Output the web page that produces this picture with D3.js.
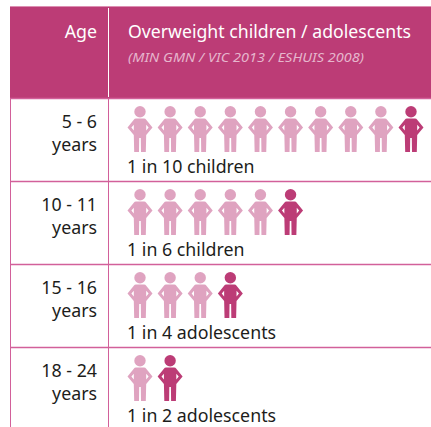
<!DOCTYPE html>
<html>
<head>
<meta charset="utf-8">
<script src="https://cdn.jsdelivr.net/npm/d3@7"></script>
<style>
html, body { margin: 0; padding: 0; background: #fff; overflow: hidden; }
text { font-family: "Noto Sans", sans-serif; }
</style>
</head>
<body>
<div id="chart"></div>
<script>
var ageLabels = ["5 - 6", "10 - 11", "15 - 16", "18 - 24"];
var outOf = [10, 6, 4, 2];
var overweight = [1, 1, 1, 1];
var captions = ["1 in 10 children", "1 in 6 children", "1 in 4 adolescents", "1 in 2 adolescents"];
var ageTitle = "Age";
var mainTitle = "Overweight children / adolescents";
var sourceText = "(MIN GMN / VIC 2013 / ESHUIS 2008)";

var iWidth = 431, iHeight = 427;
var cHeader = "#bc3c76", cLight = "#dfa3c0", cLine = "#d2609a", cText = "#1d1d1b";

var svg = d3.select("#chart").append("svg")
	.attr("width", iWidth)
	.attr("height", iHeight);

// rows, one band per age group
var yRow = d3.scaleBand().domain(ageLabels).range([98, 430]);
// icon slots, ten across the full width
var xIcon = d3.scalePoint().domain(d3.range(10)).range([140, 411]);

// torso with arms on hips, the two small holes are cut with evenodd
var figure = "M-6,13.5 Q-5.5,12.5 -4,12.5 L4,12.5 Q5.5,12.5 6,13.5 L12.5,21.5 L6.2,29 L5.8,46 L1,46 L0.8,32 L-0.8,32 L-1,46 L-5.8,46 L-6.2,29 L-12.5,21.5 Z " +
	"M6.2,18.8 L8.6,21.5 L6.2,24.4 Z M-6.2,18.8 L-8.6,21.5 L-6.2,24.4 Z";

// header
svg.append("rect").attr("x", 10).attr("y", 6).attr("width", iWidth - 10).attr("height", 92).attr("fill", cHeader);
svg.append("line").attr("x1", 10).attr("x2", iWidth).attr("y1", 6.5).attr("y2", 6.5).attr("stroke", "#dd8fb2");
svg.append("line").attr("x1", 108.5).attr("x2", 108.5).attr("y1", 8).attr("y2", 97).attr("stroke", "#fff").attr("stroke-width", 1);

svg.append("text").attr("x", 97).attr("y", 38).attr("text-anchor", "end")
	.attr("font-size", 17.8).attr("fill", "#fff").text(ageTitle);
svg.append("text").attr("x", 128).attr("y", 38)
	.attr("font-size", 17.8).attr("fill", "#fff")
	.attr("textLength", 283).attr("lengthAdjust", "spacingAndGlyphs").text(mainTitle);
svg.append("text").attr("x", 128).attr("y", 62)
	.attr("font-size", 13).attr("font-style", "italic").attr("fill", "#e6b6cd")
	.attr("textLength", 236).attr("lengthAdjust", "spacingAndGlyphs").text(sourceText);

// grid
svg.selectAll("line.row").data(ageLabels).enter().append("line")
	.attr("class", "row")
	.attr("x1", 10).attr("x2", iWidth)
	.attr("y1", function(d) { return yRow(d) + 0.5; })
	.attr("y2", function(d) { return yRow(d) + 0.5; })
	.attr("stroke", cLine)
	.attr("stroke-width", 1.3);
[10.5, 108.5].forEach(function(x) {
	svg.append("line").attr("x1", x).attr("x2", x).attr("y1", 98).attr("y2", iHeight).attr("stroke", cLine);
});

// rows
var rows = svg.selectAll("g.age").data(ageLabels).enter().append("g")
	.attr("class", "age")
	.attr("transform", function(d) { return "translate(0," + yRow(d) + ")"; });

rows.append("text").attr("x", 97).attr("y", 30).attr("text-anchor", "end")
	.attr("font-size", 17.8).attr("fill", cText)
	.text(function(d) { return d; });
rows.append("text").attr("x", 97).attr("y", 52.5).attr("text-anchor", "end")
	.attr("font-size", 17.8).attr("fill", cText)
	.text("years");
rows.append("text").attr("x", 127).attr("y", 75)
	.attr("font-size", 17.8).attr("fill", cText)
	.text(function(d, i) { return captions[i]; });

var icons = rows.selectAll("g.icon")
	.data(function(d, i) {
		return d3.range(outOf[i]).map(function(k) {
			return { k: k, highlight: k >= outOf[i] - overweight[i] };
		});
	})
	.enter().append("g")
	.attr("class", "icon")
	.attr("transform", function(d) { return "translate(" + xIcon(d.k) + ",8)"; })
	.attr("fill", function(d) { return d.highlight ? cHeader : cLight; });

icons.append("circle").attr("cx", 0).attr("cy", 5.7).attr("r", 5.7);
icons.append("path").attr("d", figure).attr("fill-rule", "evenodd");
</script>
</body>
</html>
